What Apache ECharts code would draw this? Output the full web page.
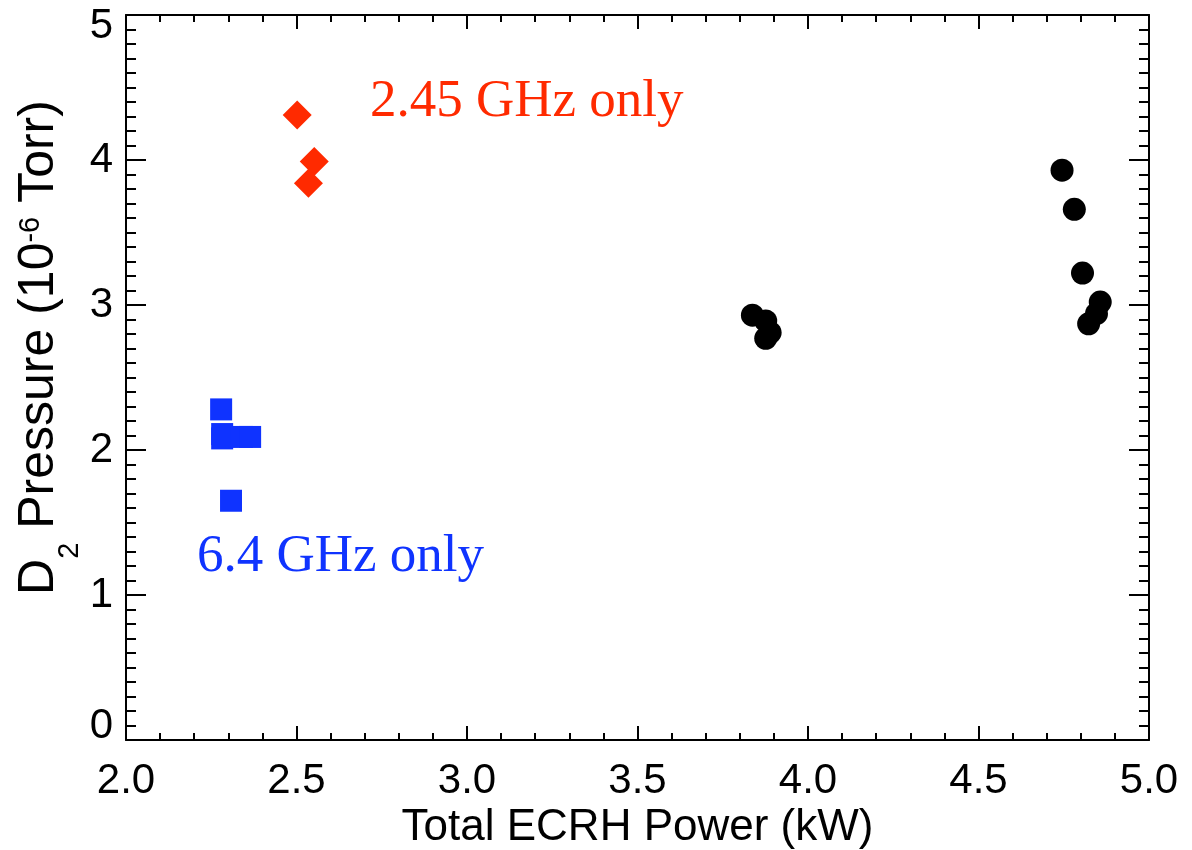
<!DOCTYPE html>
<html>
<head>
<meta charset="utf-8">
<script src="https://cdn.jsdelivr.net/npm/echarts@6/dist/echarts.min.js"></script>
<style>
  html, body { margin: 0; padding: 0; background: #ffffff; }
  #chart { width: 1192px; height: 850px; }
</style>
</head>
<body>
<div id="chart"></div>
<script>
// D2 fill pressure against total ECRH power for three heating configurations.

// Both sources together (kW, 1e-6 Torr)
const combinedPower    = [3.837, 3.876, 3.889, 3.876, 4.745, 4.781, 4.805, 4.857, 4.846, 4.823];
const combinedPressure = [2.93, 2.89, 2.81, 2.77, 3.93, 3.66, 3.22, 3.02, 2.94, 2.87];

// 2.45 GHz source alone
const power245    = [2.502, 2.552, 2.535];
const pressure245 = [4.31, 3.99, 3.84];

// 6.4 GHz source alone
const power64    = [2.279, 2.282, 2.282, 2.340, 2.364, 2.308];
const pressure64 = [2.28, 2.11, 2.08, 2.09, 2.09, 1.65];

// Tick labels
const xTickLabels = ['2.0', '2.5', '3.0', '3.5', '4.0', '4.5', '5.0'];
const yTickLabels = ['0', '1', '2', '3', '4', '5'];

const label245 = '2.45 GHz only';
const label64  = '6.4 GHz only';

const RED = '#ff2a00';
const BLUE = '#0f33ff';
const SANS = 'Liberation Sans';
const SERIF = 'Liberation Serif';

function pairs(xs, ys) { return xs.map((x, i) => [x, ys[i]]); }

const chart = echarts.init(document.getElementById('chart'), null, { renderer: 'canvas' });

const lineStyle = { color: '#000', width: 2 };

function xAxisDef(pos, withLabels) {
  return {
    type: 'value', position: pos, min: 2, max: 5, interval: 0.5,
    axisLine: { show: true, onZero: false, lineStyle },
    axisTick: { show: true, inside: true, length: 14, lineStyle },
    minorTick: { show: true, splitNumber: 5, length: 7, lineStyle },
    splitLine: { show: false },
    minorSplitLine: { show: false },
    axisLabel: {
      show: withLabels, color: '#000', fontFamily: SANS, fontSize: 42, margin: 20,
      formatter: (v, i) => xTickLabels[i]
    },
    name: withLabels ? 'Total ECRH Power (kW)' : '',
    nameLocation: 'middle', nameGap: 66, nameMoveOverlap: false,
    nameTextStyle: { color: '#000', fontFamily: SANS, fontSize: 44 }
  };
}

function yAxisDef(pos, withLabels) {
  return {
    type: 'value', position: pos, min: 0, max: 5, interval: 1,
    axisLine: { show: true, onZero: false, lineStyle },
    axisTick: { show: true, inside: true, length: 20, lineStyle },
    minorTick: { show: true, splitNumber: 10, length: 10, lineStyle },
    splitLine: { show: false },
    minorSplitLine: { show: false },
    axisLabel: {
      show: withLabels, color: '#000', fontFamily: SANS, fontSize: 42, margin: 13,
      formatter: (v, i) => {
        const t = yTickLabels[i];
        if (i === 0) return '{lo|' + t + '}';
        if (i === yTickLabels.length - 1) return '{hi|' + t + '}';
        return '{n|' + t + '}';
      },
      rich: {
        n:  { fontFamily: SANS, fontSize: 42, color: '#000' },
        lo: { fontFamily: SANS, fontSize: 42, color: '#000', padding: [0, 0, 28, 0] },
        hi: { fontFamily: SANS, fontSize: 42, color: '#000', padding: [22, 0, 0, 0] }
      }
    },
    name: withLabels ? '{m|D}{sub|2}{m| Pressure (10}{sup|-6}{m| Torr)}' : '',
    nameLocation: 'middle', nameRotate: 90, nameGap: 42, nameMoveOverlap: false,
    nameTextStyle: {
      color: '#000', fontFamily: SANS, fontSize: 50,
      padding: [0, 0, 0, 60],
      rich: {
        m:   { fontFamily: SANS, fontSize: 50, color: '#000', verticalAlign: 'middle' },
        sub: { fontFamily: SANS, fontSize: 29, color: '#000', verticalAlign: 'bottom', lineHeight: 90 },
        sup: { fontFamily: SANS, fontSize: 29, color: '#000', verticalAlign: 'middle', padding: [0, 0, 16, 0] }
      }
    }
  };
}

chart.setOption({
  animation: false,
  backgroundColor: '#ffffff',
  grid: { left: 126, right: 43, top: 15, bottom: 110, containLabel: false, outerBoundsMode: 'none' },
  xAxis: [xAxisDef('bottom', true), xAxisDef('top', false)],
  yAxis: [yAxisDef('left', true), yAxisDef('right', false)],
  series: [
    {
      type: 'scatter', xAxisIndex: 0, yAxisIndex: 0,
      data: pairs(combinedPower, combinedPressure),
      symbol: 'circle', symbolSize: 23,
      itemStyle: { color: '#000', opacity: 1 },
      emphasis: { disabled: true }
    },
    {
      type: 'scatter', xAxisIndex: 0, yAxisIndex: 0,
      data: pairs(power245, pressure245),
      symbol: 'diamond', symbolSize: 29,
      itemStyle: { color: RED, opacity: 1 },
      emphasis: { disabled: true }
    },
    {
      type: 'scatter', xAxisIndex: 0, yAxisIndex: 0,
      data: pairs(power64, pressure64),
      symbol: 'rect', symbolSize: 22,
      itemStyle: { color: BLUE, opacity: 1 },
      emphasis: { disabled: true }
    }
  ],
  graphic: [
    {
      type: 'text', left: 370, top: 76, silent: true,
      style: { text: label245, fill: RED, font: '53px "' + SERIF + '"' }
    },
    {
      type: 'text', left: 197, top: 531, silent: true,
      style: { text: label64, fill: BLUE, font: '53px "' + SERIF + '"' }
    }
  ]
});
</script>
</body>
</html>
